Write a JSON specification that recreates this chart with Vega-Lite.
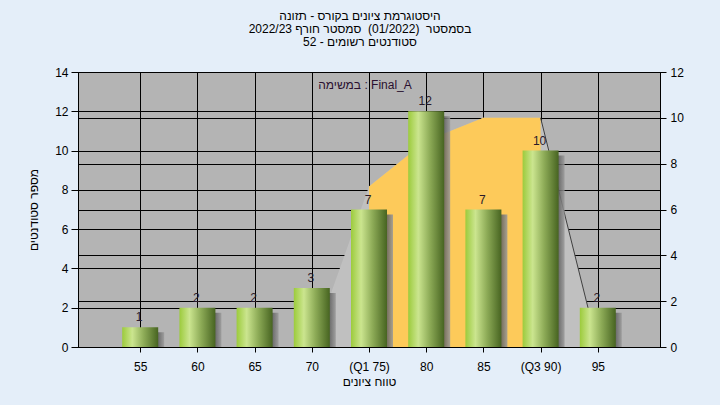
{
  "$schema": "https://vega.github.io/schema/vega-lite/v6.json",
  "width": 582,
  "height": 275,
  "autosize": {"type": "none"},
  "padding": {"left": 78, "top": 72, "right": 60, "bottom": 58},
  "background": "#e4eef9",
  "config": {
    "font": "Liberation Sans",
    "view": {"fill": "#b4b4b4", "stroke": "#000", "strokeWidth": 1},
    "axis": {
      "labelFont": "Liberation Sans", "labelFontSize": 12, "labelColor": "#000",
      "titleFont": "Liberation Sans", "titleFontSize": 12, "titleFontWeight": "normal", "titleColor": "#000",
      "domainColor": "#000", "tickColor": "#000", "gridColor": "#000", "gridOpacity": 1, "gridWidth": 1
    }
  },
  "title": {
    "text": ["היסטוגרמת ציונים בקורס - תזונה", "בסמסטר\u00a0\u00a0(01/2022)\u00a0\u00a0סמסטר חורף 2022/23", "סטודנטים רשומים - 52"],
    "anchor": "middle", "frame": "group", "dx": -9,
    "fontSize": 12, "fontWeight": "normal", "font": "Liberation Sans", "color": "#000",
    "lineHeight": 13, "offset": 17
  },
  "datasets": {
    "bars": [
      {"score": 55, "count": 1}, {"score": 60, "count": 2}, {"score": 65, "count": 2},
      {"score": 70, "count": 3}, {"score": 75, "count": 7}, {"score": 80, "count": 12},
      {"score": 85, "count": 7}, {"score": 90, "count": 10}, {"score": 95, "count": 2}
    ],
    "dist": [
      {"score": 70, "dist": 0}, {"score": 75, "dist": 7}, {"score": 80, "dist": 9},
      {"score": 85, "dist": 10}, {"score": 90, "dist": 10}, {"score": 95, "dist": 0}
    ]
  },
  "encoding": {
    "x": {
      "field": "score", "type": "quantitative",
      "scale": {"domain": [50, 100], "nice": false, "zero": false},
      "axis": {
        "values": [55, 60, 65, 70, 75, 80, 85, 90, 95], "grid": true,
        "title": "טווח ציונים", "tickSize": 5, "labelPadding": 9, "titlePadding": 4,
        "labelFlush": false,
        "labelExpr": "datum.value == 75 ? '(Q1 75)' : datum.value == 90 ? '(Q3 90)' : datum.label"
      }
    }
  },
  "layer": [
    {
      "data": {"name": "dist"},
      "encoding": {
        "y": {
          "field": "dist", "type": "quantitative",
          "scale": {"domain": [0, 12], "nice": false},
          "axis": {"orient": "right", "values": [0, 2, 4, 6, 8, 10, 12], "grid": true, "title": null, "tickSize": 6, "labelPadding": 4}
        }
      },
      "layer": [
        {"mark": {"type": "area", "color": "#c0c0c0"}},
        {"transform": [{"filter": "datum.score >= 75 && datum.score <= 90"}], "mark": {"type": "area", "color": "#fdca5a"}},
        {"transform": [{"filter": "datum.score >= 90"}], "mark": {"type": "line", "color": "#404040", "strokeWidth": 1}}
      ]
    },
    {
      "data": {"name": "bars"},
      "encoding": {
        "y": {
          "field": "count", "type": "quantitative",
          "scale": {"domain": [0, 14], "nice": false},
          "axis": {"orient": "left", "values": [0, 2, 4, 6, 8, 10, 12, 14], "grid": true, "title": "מספר סטודנטים", "tickSize": 7, "labelPadding": 3, "titlePadding": 14}
        }
      },
      "layer": [
        {"mark": {"type": "bar", "width": 36, "xOffset": 6, "yOffset": 5, "opacity": 0.85, "clip": true,
          "color": {"gradient": "linear", "x1": 0, "x2": 1, "y1": 0, "y2": 0,
            "stops": [{"offset": 0, "color": "#3c3c3c"}, {"offset": 0.8, "color": "#555555"}, {"offset": 1, "color": "#9a9a9a"}]}}},
        {"mark": {"type": "bar", "width": 36,
          "color": {"gradient": "linear", "x1": 0, "x2": 1, "y1": 0, "y2": 0,
            "stops": [{"offset": 0, "color": "#9ccb3c"}, {"offset": 0.28, "color": "#cbe58f"}, {"offset": 0.6, "color": "#8dab57"}, {"offset": 1, "color": "#476421"}]}}},
        {"mark": {"type": "text", "dy": -6, "dx": -1, "baseline": "alphabetic", "fontSize": 12, "color": "#2a1a2a", "font": "Liberation Sans"},
          "encoding": {"text": {"field": "count", "type": "quantitative"}}},
        {
          "transform": [{"filter": "datum.score == 75"}],
          "mark": {"type": "text", "fontSize": 12, "color": "#2a1030", "font": "Liberation Sans", "baseline": "middle", "align": "center", "dx": -4},
          "encoding": {
            "y": {"datum": 13.35},
            "text": {"value": "במשימה : Final_A"}
          }
        }
      ]
    }
  ],
  "resolve": {"scale": {"y": "independent"}}
}
